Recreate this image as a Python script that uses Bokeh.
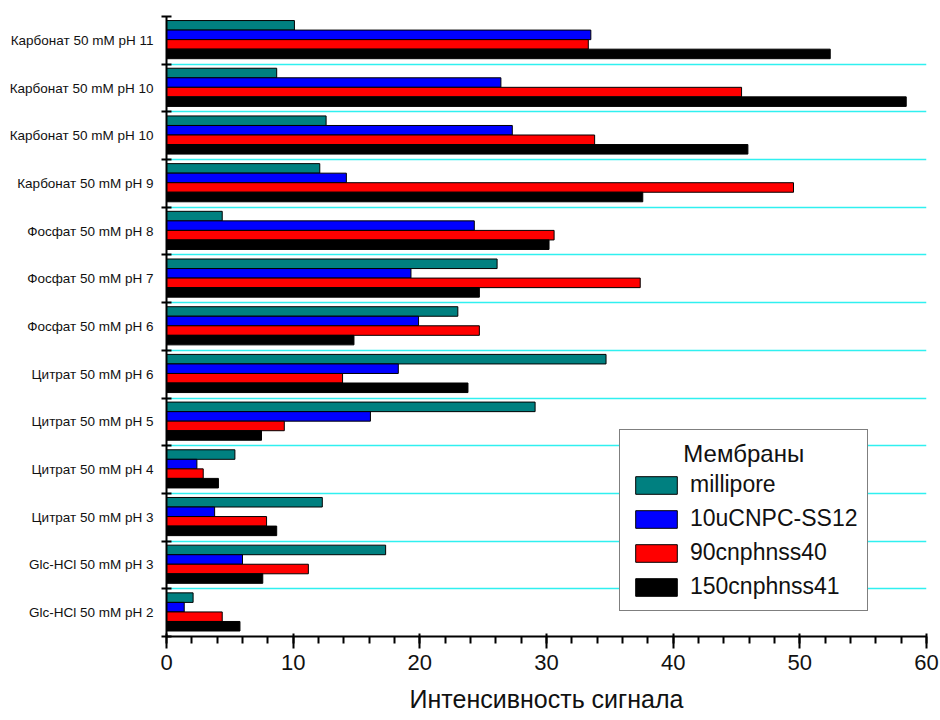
from bokeh.plotting import figure
from bokeh.models import (Range1d, FixedTicker, Legend, LegendItem,
                          ColumnDataSource, CustomJSTickFormatter)
from bokeh.transform import dodge
from bokeh.embed import file_html
from bokeh.resources import INLINE

# ---- data (top to bottom as shown) ----
categories = [
    "Карбонат 50 mM pH 11",
    "Карбонат 50 mM pH 10",
    "Карбонат 50 mM pH 10",
    "Карбонат 50 mM pH 9",
    "Фосфат 50 mM pH 8",
    "Фосфат 50 mM pH 7",
    "Фосфат 50 mM pH 6",
    "Цитрат 50 mM pH 6",
    "Цитрат 50 mM pH 5",
    "Цитрат 50 mM pH 4",
    "Цитрат 50 mM pH 3",
    "Glc-HCl 50 mM pH 3",
    "Glc-HCl 50 mM pH 2",
]
millipore   = [10.1, 8.7, 12.6, 12.1, 4.4, 26.1, 23.0, 34.7, 29.1, 5.4, 12.3, 17.3, 2.1]
cnpc_ss12   = [33.5, 26.4, 27.3, 14.2, 24.3, 19.3, 19.9, 18.3, 16.1, 2.4, 3.8, 6.0, 1.4]
cnphnss40   = [33.3, 45.4, 33.8, 49.5, 30.6, 37.4, 24.7, 13.9, 9.3, 2.9, 7.9, 11.2, 4.4]
cnphnss41   = [52.4, 58.4, 45.9, 37.6, 30.2, 24.7, 14.8, 23.8, 7.5, 4.1, 8.7, 7.6, 5.8]
series_names = ["millipore", "10uCNPC-SS12", "90cnphnss40", "150cnphnss41"]
series_values = [millipore, cnpc_ss12, cnphnss40, cnphnss41]
colors = ["#008080", "#0000ff", "#ff0000", "#000000"]
x_ticks = [0, 10, 20, 30, 40, 50, 60]
x_minor = list(range(0, 61, 2))
legend_title = "Мембраны"
x_title = "Интенсивность сигнала"

FONT = "Liberation Sans"
n = len(categories)
ypos = [n - i - 0.5 for i in range(n)]
labels_bottom_up = list(reversed(categories))

data = dict(y=ypos, cat=categories)
for k, vals in enumerate(series_values):
    data["s%d" % k] = vals
source = ColumnDataSource(data)

p = figure(width=940, height=720,
           x_range=Range1d(x_ticks[0], x_ticks[-1]), y_range=Range1d(0, n),
           output_backend="svg", toolbar_location=None,
           min_border_left=166, min_border_right=14, min_border_top=16,
           min_border_bottom=84)
p.outline_line_color = None
p.background_fill_color = "white"
p.border_fill_color = "white"

# grid
p.xgrid.visible = False
p.ygrid.ticker = FixedTicker(ticks=list(range(1, n)))
p.ygrid.grid_line_color = "#30f0f0"
p.ygrid.grid_line_width = 1.5

offsets = [0.315, 0.115, -0.085, -0.285]
renderers = []
for k in range(len(series_names)):
    r = p.hbar(y=dodge("y", offsets[k], range=p.y_range), right="s%d" % k, left=0,
               height=0.2, source=source, fill_color=colors[k],
               line_color="#000000", line_width=1)
    renderers.append(r)

# y axis
ya = p.yaxis[0]
ya.ticker = FixedTicker(ticks=ypos, minor_ticks=list(range(0, n + 1)))
ya.formatter = CustomJSTickFormatter(args=dict(labels=labels_bottom_up),
                                     code="return labels[Math.round(tick - 0.5)];")
ya.major_tick_line_color = None
ya.major_tick_in = 0
ya.major_tick_out = 0
ya.minor_tick_in = 5
ya.minor_tick_out = 5
ya.minor_tick_line_width = 2
ya.minor_tick_line_color = "black"
ya.axis_line_width = 2
ya.axis_line_color = "black"
ya.major_label_standoff = 8
ya.major_label_text_font = FONT
ya.major_label_text_font_size = "13.5px"
ya.major_label_text_color = "#111111"

# x axis
xa = p.xaxis[0]
xa.ticker = FixedTicker(ticks=x_ticks, minor_ticks=x_minor)
xa.major_tick_in = 3
xa.major_tick_out = 12
xa.minor_tick_in = 0
xa.minor_tick_out = 7
xa.major_tick_line_width = 2
xa.minor_tick_line_width = 2
xa.axis_line_width = 2
xa.major_label_standoff = 6
xa.major_label_text_font = FONT
xa.major_label_text_font_size = "22px"
xa.major_label_text_color = "#111111"
xa.axis_label = x_title
xa.axis_label_text_font = FONT
xa.axis_label_text_font_size = "25px"
xa.axis_label_text_font_style = "normal"
xa.axis_label_text_color = "#111111"
xa.axis_label_standoff = 12

legend = Legend(items=[LegendItem(label=series_names[k], renderers=[renderers[k]])
                       for k in range(len(series_names))],
                location=(453, 25), title="\u00a0" * 8 + legend_title)
legend.border_line_color = "black"
legend.border_line_width = 1
legend.background_fill_color = "white"
legend.background_fill_alpha = 1
legend.padding = 10
legend.margin = 0
legend.glyph_width = 52
legend.glyph_height = 22
legend.label_standoff = 8
legend.spacing = 7
legend.label_text_font = FONT
legend.label_text_font_size = "23px"
legend.label_text_color = "#111111"
legend.title_text_font = FONT
legend.title_text_font_size = "24px"
legend.title_text_font_style = "normal"
legend.title_text_color = "#111111"
legend.title_standoff = 3
p.add_layout(legend)

open("out.html", "w").write(file_html(p, INLINE))
